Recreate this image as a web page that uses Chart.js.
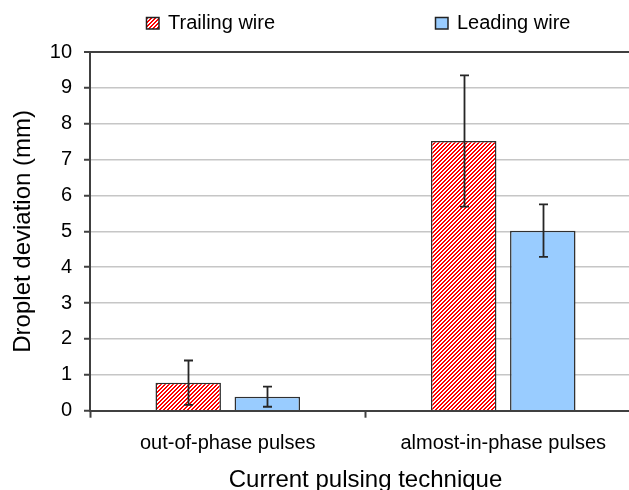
<!DOCTYPE html>
<html>
<head>
<meta charset="utf-8">
<script src="https://cdn.jsdelivr.net/npm/chart.js@4.4.1/dist/chart.umd.min.js"></script>
<style>
  html, body { margin: 0; padding: 0; background: #fff; width: 629px; height: 490px; overflow: hidden; }
  #wrap { position: absolute; left: 0; top: 0; width: 646px; height: 500px; }
</style>
</head>
<body>
<div id="wrap"><canvas id="chart" width="646" height="500"></canvas></div>
<script>
// Droplet deviation by current pulsing technique, mean ± spread
const categories = ['out-of-phase pulses', 'almost-in-phase pulses'];
const seriesNames = ['Trailing wire', 'Leading wire'];
const trailingWire = [0.78, 7.52];
const leadingWire = [0.39, 5.02];
const trailingSpread = [0.62, 1.83];
const leadingSpread = [0.28, 0.73];
const yMin = 0, yMax = 10, yStep = 1;

const FONT = "'Liberation Sans', Arial, sans-serif";
const INK = '#000';
const AXIS = '#404040';
const GRID = '#c6c6c6';
const BLUE = '#99ccff';

// red/white diagonal hatching for the trailing-wire bars
function makeHatch() {
  const c = document.createElement('canvas');
  c.width = 4; c.height = 4;
  const g = c.getContext('2d');
  g.fillStyle = '#ffffff';
  g.fillRect(0, 0, 4, 4);
  g.fillStyle = '#ff0000';
  for (let y = 0; y < 4; y++) {
    for (let x = 0; x < 4; x++) {
      if ((x + y) % 4 < 2) g.fillRect(x, y, 1, 1);
    }
  }
  return g.createPattern(c, 'repeat');
}
const hatch = makeHatch();

// whisker for every bar, from value - spread to value + spread
const errorBars = {
  id: 'errorBars',
  afterDatasetsDraw(chart) {
    const ctx = chart.ctx;
    const ys = chart.scales.y;
    ctx.save();
    ctx.strokeStyle = '#262626';
    ctx.lineWidth = 1.8;
    chart.data.datasets.forEach((ds, i) => {
      const meta = chart.getDatasetMeta(i);
      meta.data.forEach((bar, j) => {
        const v = ds.data[j], e = ds.spread[j];
        const x = Math.round(bar.x) + 0.5;
        const yt = ys.getPixelForValue(v + e);
        const yb = ys.getPixelForValue(v - e);
        ctx.beginPath();
        ctx.moveTo(x, yt); ctx.lineTo(x, yb);
        ctx.moveTo(x - 4.5, yt); ctx.lineTo(x + 4.5, yt);
        ctx.moveTo(x - 4.5, yb); ctx.lineTo(x + 4.5, yb);
        ctx.stroke();
      });
    });
    ctx.restore();
  }
};

// legend row above the plot
const topLegend = {
  id: 'topLegend',
  afterDraw(chart) {
    const ctx = chart.ctx;
    const slots = [146, 435];
    ctx.save();
    ctx.font = '20px ' + FONT;
    ctx.textBaseline = 'alphabetic';
    ctx.textAlign = 'left';
    chart.data.datasets.forEach((ds, i) => {
      const x0 = slots[i];
      ctx.fillStyle = ds.backgroundColor;
      ctx.fillRect(x0, 17, 13, 12);
      ctx.strokeStyle = '#222';
      ctx.lineWidth = 1.5;
      ctx.strokeRect(x0 + 0.5, 17.5, 12.5, 11.5);
      ctx.fillStyle = INK;
      ctx.fillText(ds.label, x0 + 22, 29);
    });
    ctx.restore();
  }
};

new Chart(document.getElementById('chart'), {
  type: 'bar',
  data: {
    labels: categories,
    datasets: [
      {
        label: seriesNames[0],
        data: trailingWire,
        spread: trailingSpread,
        backgroundColor: hatch,
        borderColor: '#303030',
        borderWidth: 1.5
      },
      {
        label: seriesNames[1],
        data: leadingWire,
        spread: leadingSpread,
        backgroundColor: BLUE,
        borderColor: '#303030',
        borderWidth: 1.5
      }
    ]
  },
  options: {
    responsive: false,
    animation: false,
    devicePixelRatio: 1,
    categoryPercentage: 0.574,
    barPercentage: 0.828,
    layout: { padding: { top: 52, right: 5, left: 0, bottom: 0 } },
    plugins: {
      legend: { display: false },
      tooltip: { enabled: false }
    },
    scales: {
      x: {
        afterFit(scale) { scale.height = 89.3; },
        grid: {
          offset: true,
          drawOnChartArea: false,
          drawTicks: true,
          tickLength: 7,
          tickColor: AXIS,
          tickWidth: 2
        },
        border: { color: AXIS, width: 2 },
        ticks: {
          color: INK,
          padding: 14,
          font: { family: FONT, size: 20 },
          maxRotation: 0
        },
        title: {
          display: true,
          text: 'Current pulsing technique',
          color: INK,
          font: { family: FONT, size: 24 },
          padding: { top: 11, bottom: 5 }
        }
      },
      y: {
        min: yMin,
        max: yMax,
        afterFit(scale) { scale.width = 90; },
        ticks: {
          stepSize: yStep,
          color: INK,
          padding: 12,
          font: { family: FONT, size: 20 }
        },
        grid: {
          color: ctx => (ctx.tick && ctx.tick.value === yMax) ? AXIS : GRID,
          lineWidth: ctx => (ctx.tick && ctx.tick.value === yMax) ? 2 : 1.5,
          tickColor: AXIS,
          tickLength: 6,
          tickWidth: 2
        },
        border: { color: AXIS, width: 2 },
        title: {
          display: true,
          text: 'Droplet deviation (mm)',
          color: INK,
          font: { family: FONT, size: 24 },
          padding: { top: 8.5, bottom: 0 }
        }
      }
    }
  },
  plugins: [errorBars, topLegend]
});
</script>
</body>
</html>
